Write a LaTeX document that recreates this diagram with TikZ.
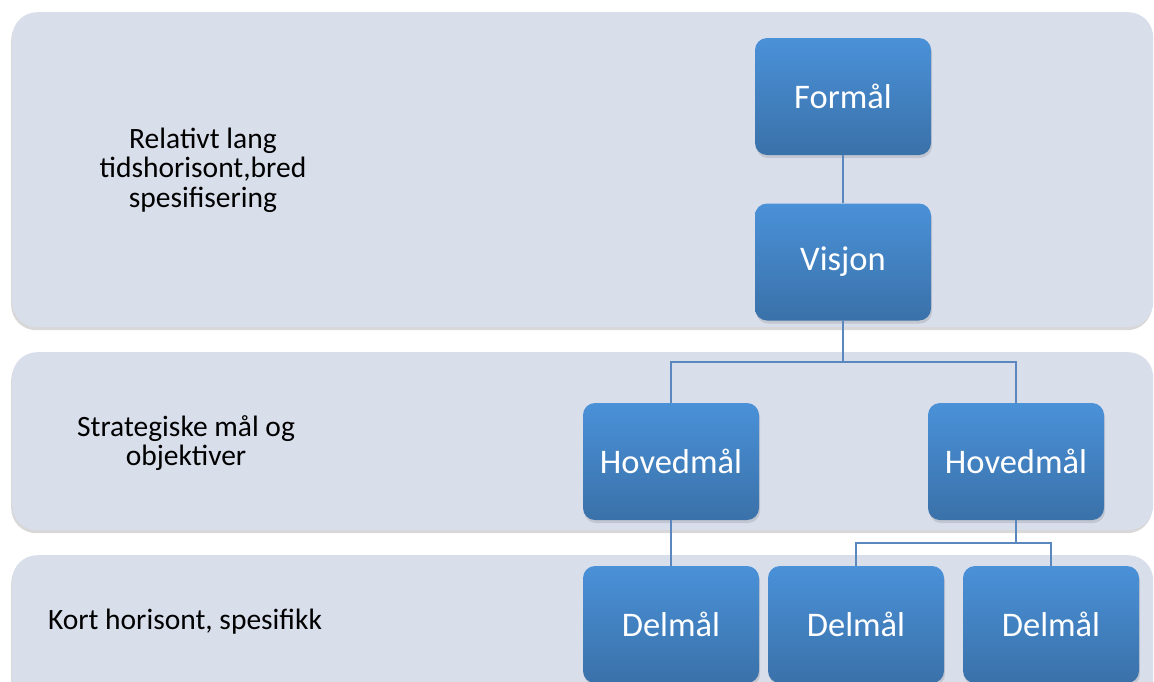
\documentclass[tikz,border=0pt]{standalone}
\usepackage{fontspec}
\setmainfont{Carlito}
\usetikzlibrary{positioning,shadows}

\definecolor{bandfill}{HTML}{D9DEEB}
\definecolor{boxtop}{HTML}{4A91D8}
\definecolor{boxbottom}{HTML}{3A71A9}
\definecolor{linkblue}{HTML}{5A87BE}

\tikzset{
  band/.style={rectangle, rounded corners=25pt, fill=bandfill, anchor=north west,
    drop shadow={shadow xshift=-1pt, shadow yshift=-3pt, opacity=0.3}},
  bandtext/.style={align=center, font=\fontsize{29.5}{29.5}\selectfont},
  goal/.style={rectangle, rounded corners=12pt, minimum width=176pt, minimum height=117pt,
    top color=boxtop, bottom color=boxbottom, text=white,
    font=\fontsize{34.5}{38}\selectfont,
    drop shadow={shadow xshift=1pt, shadow yshift=-3pt, opacity=0.25}},
  link/.style={draw=linkblue, line width=1.8pt}
}

\begin{document}
\begin{tikzpicture}[x=1pt, y=-1pt]

  \clip (0,0) rectangle (1154,681);
  \fill[white] (0,0) rectangle (1154,681);

  % the three levels
  \node[band, minimum width=1141pt, minimum height=315pt] (lang) at (12,12) {};
  \node[band, minimum width=1141pt, minimum height=178pt] (strat) at (12,352) {};
  \node[band, minimum width=1141pt, minimum height=150pt] (kort) at (12,555) {};

  \node[bandtext] (langtxt) at (203,170) {Relativt lang\\tidshorisont,bred\\spesifisering};
  \node[bandtext] (strattxt) at (186,443) {Strategiske mål og\\objektiver};
  \node[bandtext] (korttxt) at (185,622) {Kort horisont, spesifikk};

  % goal hierarchy
  \node[goal] (formaal) at (843,96.5) {Formål};
  \node[goal] (visjon) at (843,262) {Visjon};
  \node[goal] (hoved1) at (671,461.5) {Hovedmål};
  \node[goal] (hoved2) at (1016,461.5) {Hovedmål};
  \node[goal] (delmaal1) at (671,624.5) {Delmål};
  \node[goal] (delmaal2) at (856,624.5) {Delmål};
  \node[goal] (delmaal3) at (1051,624.5) {Delmål};

  \coordinate (fork1) at (843,362);
  \coordinate (fork2) at (1016,543);

  \draw[link] (formaal) -- (visjon);
  \draw[link] (visjon) -- (fork1);
  \draw[link] (hoved1.north) |- (fork1) -| (hoved2.north);
  \draw[link] (hoved1) -- (delmaal1);
  \draw[link] (hoved2) -- (fork2);
  \draw[link] (delmaal2.north) |- (fork2) -| (delmaal3.north);

\end{tikzpicture}
\end{document}
